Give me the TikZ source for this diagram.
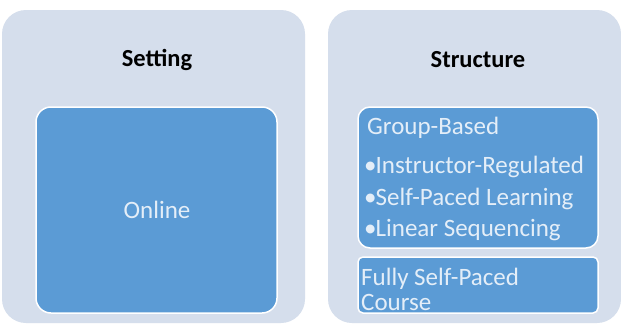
\documentclass[tikz,border=0pt]{standalone}
\usepackage{fontspec}
\setmainfont{Carlito}
\definecolor{outerbg}{HTML}{D5DEEC}
\definecolor{innerbg}{HTML}{5B9BD5}
\definecolor{innertxt}{HTML}{E4EEF8}
\begin{document}
\begin{tikzpicture}[x=1pt,y=-1pt,
  outerbox/.style={fill=outerbg, draw=none, rounded corners=24pt},
  innerbox/.style={fill=innerbg, draw=white, line width=1.5pt},
  title/.style={font=\bfseries\fontsize{24.5}{28}\selectfont, text=black},
  itxt/.style={font=\fontsize{25}{30}\selectfont, text=innertxt, anchor=west, inner sep=0pt}]
\useasboundingbox (0,0) rectangle (621,324);
\fill[white] (0,0) rectangle (621,324);
% left panel
\path[outerbox] (2,10) rectangle (305,323);
\node[title] (setting) at (157,60) {Setting};
\path[innerbox, rounded corners=15pt] (36,107) rectangle (277,313);
\node[font=\fontsize{25}{30}\selectfont, text=innertxt] (online) at (157,210) {Online};
% right panel
\path[outerbox] (328,10) rectangle (621,323);
\node[title] (structure) at (478,60) {Structure};
\path[innerbox, rounded corners=12pt] (358,107) rectangle (598,248);
\node[itxt] (gb) at (367,128) {Group-Based};
\node[itxt] (b1) at (364,167) {\textbullet\kern-1pt Instructor-Regulated};
\node[itxt] (b2) at (364,199) {\textbullet\kern-1pt Self-Paced Learning};
\node[itxt] (b3) at (364,230) {\textbullet\kern-1pt Linear Sequencing};
\path[innerbox, rounded corners=5pt] (358,257) rectangle (598,313);
\node[itxt] (fs) at (361,279) {Fully Self-Paced};
\node[itxt] (cr) at (361,302) {Course};
\end{tikzpicture}
\end{document}
